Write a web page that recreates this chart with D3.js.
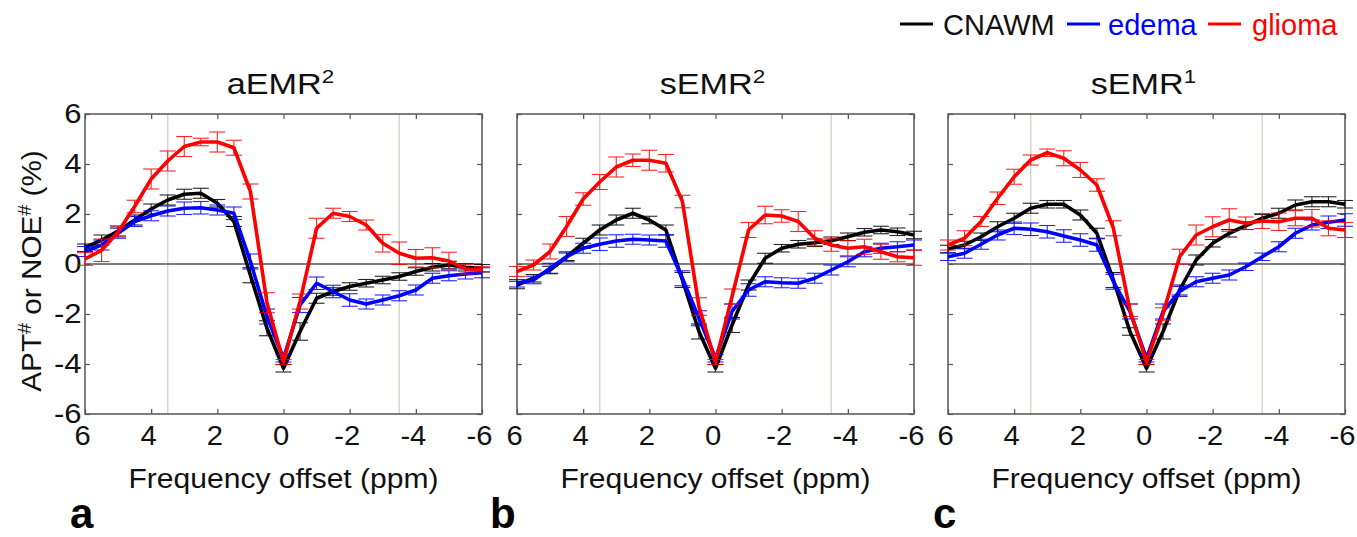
<!DOCTYPE html>
<html><head><meta charset="utf-8">
<script src="https://cdn.jsdelivr.net/npm/d3@7"></script>
<style>body{margin:0;background:#fff}svg{display:block}text{font-family:"Liberation Sans",Arial,sans-serif}</style>
</head><body>
<script>
// ---- data ----
const offsets = [6,5.5,5,4.5,4,3.5,3,2.5,2,1.5,1,0.5,0,-0.5,-1,-1.5,-2,-2.5,-3,-3.5,-4,-4.5,-5,-5.5,-6];
const xTicks = [6,4,2,0,-2,-4,-6];
const yTicks = [6,4,2,0,-2,-4,-6];
const seriesNames = ["CNAWM","edema","glioma"];
const seriesColors = ["#000000","#0000ff","#ff0000"];
const panelTitles = ["aEMR","sEMR","sEMR"];
const panelSups = ["2","2","1"];
const panelLetters = ["a","b","c"];
const refLines = [3.5,-3.5];

// panel a: aEMR2
const aCNAWM = [0.65,0.96,1.32,1.76,2.2,2.56,2.79,2.83,2.43,1.7,-0.45,-2.57,-4.17,-2.7,-1.37,-1.1,-0.9,-0.77,-0.64,-0.5,-0.3,-0.13,-0.04,-0.13,-0.17];
const aEdema  = [0.5,0.76,1.23,1.7,1.93,2.12,2.23,2.25,2.16,2.03,0.1,-2.1,-3.77,-1.64,-0.77,-1.1,-1.44,-1.6,-1.44,-1.27,-1.04,-0.57,-0.47,-0.4,-0.35];
const aGlioma = [0.2,0.55,1.28,2.3,3.4,4.12,4.7,4.88,4.88,4.65,2.9,-1.55,-3.92,-1.5,1.43,2.03,1.9,1.56,0.83,0.43,0.23,0.25,0.12,-0.2,-0.21];
const aCNAWMerr = [0.15,0.2,0.2,0.2,0.2,0.2,0.2,0.2,0.15,0.2,0.3,0.3,0.15,0.35,0.2,0.15,0.15,0.15,0.15,0.15,0.15,0.15,0.15,0.15,0.15];
const aEdemaErr = [0.2,0.2,0.2,0.2,0.2,0.2,0.25,0.25,0.2,0.25,0.3,0.3,0.15,0.3,0.25,0.25,0.25,0.2,0.2,0.2,0.2,0.2,0.2,0.2,0.2];
const aGliomaErr = [0.25,0.45,0.2,0.25,0.4,0.4,0.4,0.15,0.4,0.3,0.3,0.4,0.1,0.3,0.4,0.2,0.2,0.2,0.35,0.45,0.35,0.4,0.35,0.2,0.1];

// panel b: sEMR2
const bCNAWM = [-0.84,-0.57,-0.24,0.29,0.83,1.36,1.76,2.03,1.76,1.36,-0.64,-2.7,-4.17,-2.44,-0.84,0.23,0.63,0.79,0.85,0.93,1.09,1.27,1.36,1.29,1.16];
const bEdema  = [-0.77,-0.64,-0.17,0.29,0.63,0.79,0.92,0.99,0.96,0.92,-0.57,-2.17,-3.77,-1.9,-1.04,-0.71,-0.75,-0.77,-0.57,-0.24,0.09,0.49,0.63,0.69,0.76];
const bGlioma = [-0.3,-0.04,0.5,1.5,2.6,3.28,3.88,4.15,4.15,4.03,2.5,-1.7,-3.92,-1.3,1.36,1.96,1.92,1.7,1.03,0.76,0.63,0.69,0.49,0.29,0.25];
const bCNAWMerr = [0.15,0.15,0.15,0.15,0.2,0.2,0.2,0.2,0.15,0.2,0.3,0.3,0.15,0.3,0.2,0.2,0.15,0.15,0.15,0.15,0.15,0.15,0.15,0.15,0.15];
const bEdemaErr = [0.15,0.15,0.2,0.2,0.2,0.25,0.25,0.2,0.2,0.25,0.3,0.3,0.15,0.3,0.25,0.2,0.2,0.2,0.2,0.2,0.2,0.2,0.2,0.2,0.2];
const bGliomaErr = [0.2,0.2,0.3,0.4,0.25,0.3,0.4,0.25,0.4,0.35,0.25,0.35,0.1,0.3,0.3,0.35,0.25,0.4,0.3,0.25,0.3,0.3,0.3,0.2,0.3];

// panel c: sEMR1
const cCNAWM = [0.6,0.76,1.09,1.49,1.83,2.23,2.39,2.39,1.96,1.23,-0.64,-2.7,-4.17,-2.7,-1.04,0.16,0.83,1.23,1.53,1.83,2.03,2.36,2.49,2.49,2.39];
const cEdema  = [0.29,0.43,0.79,1.16,1.43,1.39,1.29,1.12,0.96,0.76,-0.71,-1.9,-3.77,-1.9,-1.1,-0.71,-0.57,-0.44,-0.11,0.29,0.69,1.23,1.56,1.67,1.76];
const cGlioma = [0.76,1.03,1.7,2.63,3.49,4.16,4.45,4.23,3.76,3.16,1.43,-1.85,-3.92,-2.0,0.29,1.16,1.49,1.76,1.63,1.72,1.69,1.83,1.83,1.43,1.36];
const cCNAWMerr = [0.15,0.15,0.15,0.2,0.2,0.2,0.15,0.15,0.2,0.2,0.3,0.15,0.15,0.3,0.2,0.2,0.15,0.15,0.15,0.15,0.2,0.2,0.2,0.2,0.15];
const cEdemaErr = [0.15,0.2,0.2,0.2,0.25,0.25,0.25,0.25,0.25,0.25,0.3,0.3,0.15,0.3,0.2,0.2,0.2,0.2,0.15,0.15,0.2,0.2,0.2,0.25,0.25];
const cGliomaErr = [0.2,0.3,0.2,0.25,0.3,0.2,0.15,0.3,0.3,0.25,0.3,0.25,0.1,0.25,0.3,0.4,0.4,0.45,0.25,0.3,0.35,0.3,0.35,0.3,0.3];

const panels = [
  {values:[aCNAWM,aEdema,aGlioma], errors:[aCNAWMerr,aEdemaErr,aGliomaErr]},
  {values:[bCNAWM,bEdema,bGlioma], errors:[bCNAWMerr,bEdemaErr,bGliomaErr]},
  {values:[cCNAWM,cEdema,cGlioma], errors:[cCNAWMerr,cEdemaErr,cGliomaErr]}
];

// ---- layout ----
const W = 1357, H = 537;
const panelLeft = [85, 517, 948];
const panelW = 397, plotTop = 114, panelH = 300;
const letterX = [70, 490, 933];

const svg = d3.select("body").append("svg").attr("width", W).attr("height", H);

panels.forEach((p, pi) => {
  const g = svg.append("g").attr("transform", `translate(${panelLeft[pi]},${plotTop})`);
  const x = d3.scaleLinear().domain([6,-6]).range([0, panelW]);
  const y = d3.scaleLinear().domain([-6,6]).range([panelH, 0]);

  g.selectAll("line.ref").data(refLines).join("line").attr("class","ref")
    .attr("x1", d => x(d)).attr("x2", d => x(d)).attr("y1", 0).attr("y2", panelH)
    .attr("stroke", "#d6d6cc").attr("stroke-width", 1.5);
  g.append("line").attr("x1", 0).attr("x2", panelW).attr("y1", y(0)).attr("y2", y(0))
    .attr("stroke", "#555").attr("stroke-width", 1.5);

  const fmt = d3.format("d");
  const bottom = g.append("g").attr("transform", `translate(0,${panelH})`)
    .call(d3.axisBottom(x).tickValues(xTicks).tickSize(-5).tickPadding(12).tickFormat(fmt));
  const topAx = g.append("g").call(d3.axisTop(x).tickValues(xTicks).tickSize(-5).tickFormat(""));
  const left = g.append("g").call(d3.axisLeft(y).tickValues(yTicks).tickSize(-5).tickPadding(3)
    .tickFormat(pi === 0 ? fmt : ""));
  const right = g.append("g").attr("transform", `translate(${panelW},0)`)
    .call(d3.axisRight(y).tickValues(yTicks).tickSize(-5).tickFormat(""));
  [bottom, topAx, left, right].forEach(a => {
    a.select(".domain").remove();
    a.selectAll(".tick line").attr("stroke", "#555").attr("stroke-width", 1.2);
    a.selectAll(".tick text").attr("fill", "#111").style("font-size", "27px")
      .style("font-family", '"Liberation Sans",Arial,sans-serif');
  });
  bottom.selectAll(".tick text").text(d => fmt(d).replace("\u2212", "-"))
    .attr("transform", "translate(-3,0) scale(1.08,1)");
  left.selectAll(".tick text").text(d => pi === 0 ? fmt(d).replace("\u2212", "-") : "")
    .attr("transform", "scale(1.15,1)");

  g.append("rect").attr("x", 0).attr("y", 0).attr("width", panelW).attr("height", panelH)
    .attr("fill", "none").attr("stroke", "#555").attr("stroke-width", 1.5);

  const line = d3.line().x((d, i) => x(offsets[i])).y(d => y(d));
  p.values.forEach((vals, si) => {
    const col = seriesColors[si];
    const eg = g.append("g").attr("stroke", col).attr("stroke-width", 1.1).attr("opacity", 0.85);
    vals.forEach((v, i) => {
      const e = p.errors[si][i], cx = x(offsets[i]);
      eg.append("line").attr("x1", cx).attr("x2", cx).attr("y1", y(v - e)).attr("y2", y(v + e));
      eg.append("line").attr("x1", cx - 8).attr("x2", cx + 8).attr("y1", y(v - e)).attr("y2", y(v - e));
      eg.append("line").attr("x1", cx - 8).attr("x2", cx + 8).attr("y1", y(v + e)).attr("y2", y(v + e));
    });
    g.append("path").datum(vals).attr("d", line).attr("fill", "none")
      .attr("stroke", col).attr("stroke-width", 3.6).attr("stroke-linejoin", "round");
  });

  const cx = panelLeft[pi] + panelW / 2;
  const t = svg.append("text").attr("transform", `translate(${cx - 3},94) scale(1.18,1)`)
    .attr("text-anchor", "middle").style("font-size", "29px").attr("fill", "#111");
  t.append("tspan").text(panelTitles[pi]);
  t.append("tspan").attr("dy", -11).style("font-size", "19px").text(panelSups[pi]);

  svg.append("text").attr("x", cx).attr("y", 488)
    .attr("text-anchor", "middle").style("font-size", "27px").attr("fill", "#111")
    .attr("textLength", 310).attr("lengthAdjust", "spacingAndGlyphs")
    .text("Frequency offset (ppm)");

  svg.append("text").attr("x", letterX[pi]).attr("y", 528)
    .style("font-size", "42px").style("font-weight", "bold").attr("fill", "#000")
    .text(panelLetters[pi]);
});

const yl = svg.append("text").attr("transform", "translate(41,271) rotate(-90) scale(1.1,1)")
  .attr("text-anchor", "middle").style("font-size", "27px").attr("fill", "#111");
yl.append("tspan").text("APT");
yl.append("tspan").attr("dy", -10).style("font-size", "18px").text("#");
yl.append("tspan").attr("dy", 10).text(" or NOE");
yl.append("tspan").attr("dy", -10).style("font-size", "18px").text("#");
yl.append("tspan").attr("dy", 10).text(" (%)");

const legendX = [900, 1067, 1208];
const legendTextX = [943, 1108, 1252];
seriesNames.forEach((n, i) => {
  svg.append("line").attr("x1", legendX[i]).attr("x2", legendX[i] + 33).attr("y1", 24).attr("y2", 24)
    .attr("stroke", seriesColors[i]).attr("stroke-width", 3);
  svg.append("text").attr("x", legendTextX[i]).attr("y", 35).style("font-size", "29px")
    .attr("fill", seriesColors[i] === "#000000" ? "#111" : seriesColors[i]).text(n);
});
</script>
</body></html>
